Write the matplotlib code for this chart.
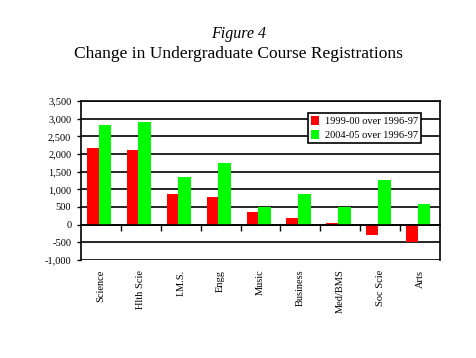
import numpy as np
import matplotlib
matplotlib.use("Agg")
import matplotlib.pyplot as plt
from matplotlib.patches import Patch

categories = ["Science", "Hlth Scie", "I.M.S.", "Engg", "Music",
              "Business", "Med/BMS", "Soc Scie", "Arts"]
change_9900 = [2170, 2120, 870, 790, 370, 190, 50, -300, -480]
change_0405 = [2820, 2900, 1340, 1740, 500, 870, 500, 1260, 590]
series_labels = ["1999-00 over 1996-97", "2004-05 over 1996-97"]
yticks = list(range(-1000, 3501, 500))

RED = "#FF0000"
GREEN = "#00FF00"
SERIF = ["Liberation Serif", "DejaVu Serif"]

plt.rcParams["font.family"] = SERIF

W, H = 477, 358
fig = plt.figure(figsize=(W / 100, H / 100), dpi=100)
ax = fig.add_axes([81 / W, 1 - 260 / H, 359 / W, 159 / H])

x = np.arange(len(categories))
ax.bar(x - 0.2, change_9900, width=0.3, color=RED, zorder=3)
ax.bar(x + 0.1, change_0405, width=0.32, color=GREEN, zorder=3)

ax.set_xlim(-0.5, len(categories) - 0.5)
ax.set_ylim(-1000, 3500)
ax.set_yticks(yticks)
ax.set_yticklabels([f"{v:,}" for v in yticks], fontsize=7.5)
ax.yaxis.grid(True, color="black", linewidth=1.2, zorder=1)
ax.tick_params(axis="y", direction="out", length=3, width=1, pad=4)

# x axis sits on the zero line, ticks between categories
ax.spines["bottom"].set_position(("data", 0))
ax.set_xticks(np.arange(0.5, len(categories) - 0.5, 1))
ax.set_xticklabels([])
ax.tick_params(axis="x", direction="out", length=4, width=1)
for s in ax.spines.values():
    s.set_linewidth(1.2)
    s.set_color("black")
ax.spines["bottom"].set_zorder(4)

for i, c in enumerate(categories):
    ax.text(i, -0.06, c, transform=ax.get_xaxis_transform(), rotation=90,
            ha="center", va="top", fontsize=7.5)

fig.text(0.5, 1 - 34 / H, "Figure 4", ha="center", va="center",
         fontsize=11.5, style="italic")
fig.text(0.5, 1 - 54 / H, "Change in Undergraduate Course Registrations",
         ha="center", va="center", fontsize=12.5)

handles = [Patch(facecolor=RED), Patch(facecolor=GREEN)]
leg = fig.legend(handles, series_labels, loc="upper left",
                 bbox_to_anchor=(308 / W, 1 - 113 / H), fontsize=7.5,
                 frameon=True, fancybox=False, edgecolor="black",
                 framealpha=1, handlelength=0.8, handleheight=0.9,
                 handletextpad=0.5, borderpad=0.3, labelspacing=0.4,
                 borderaxespad=0)
leg.get_frame().set_linewidth(1.2)

fig.savefig("out.png", dpi=100)
